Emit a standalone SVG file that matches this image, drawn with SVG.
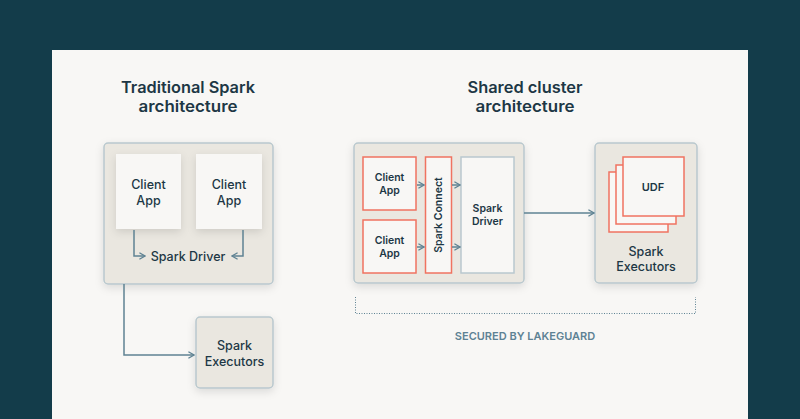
<svg xmlns="http://www.w3.org/2000/svg" width="800" height="419" viewBox="0 0 800 419">
<defs>
<style>
text{font-family:Inter,"Noto Sans","Liberation Sans",sans-serif;fill:#1d3745;text-anchor:middle}
.title{font-size:16px;font-weight:600}
.lbl{font-size:12.5px;font-weight:500}
.sm{font-size:10.5px;font-weight:600}
.outer{fill:#eae7e0;stroke:#b9c8ce;stroke-width:1.5}
.white{fill:#f8f7f5}
.red{fill:#f8f7f5;stroke:#f07360;stroke-width:1.5}
.blue{fill:#f8f7f5;stroke:#b9c8ce;stroke-width:1.5}
.conn{fill:none;stroke:#5f8393;stroke-width:1.5}
</style>
<filter id="sh" x="-20%" y="-20%" width="140%" height="150%">
<feDropShadow dx="0" dy="3" stdDeviation="4" flood-color="#000" flood-opacity="0.12"/>
</filter>
<marker id="ah" viewBox="0 0 10 10" refX="9" refY="5" markerWidth="8" markerHeight="8" markerUnits="userSpaceOnUse" orient="auto">
<path d="M2,1 L9,5 L2,9" fill="none" stroke="#5f8393" stroke-width="1.6"/>
</marker>
</defs>
<rect x="0" y="0" width="800" height="419" fill="#133c4a"/>
<rect x="52" y="50" width="696" height="369" fill="#f8f7f5"/>

<text class="title" x="188" y="92.5" textLength="134" lengthAdjust="spacingAndGlyphs">Traditional Spark</text>
<text class="title" x="188" y="111.5" textLength="99" lengthAdjust="spacingAndGlyphs">architecture</text>
<text class="title" x="525" y="92.5" textLength="115" lengthAdjust="spacingAndGlyphs">Shared cluster</text>
<text class="title" x="525" y="111.5" textLength="99" lengthAdjust="spacingAndGlyphs">architecture</text>

<g id="trad-driver">
<rect class="outer" x="104" y="143" width="169" height="141" rx="4" filter="url(#sh)"/>
<text class="lbl" x="188" y="261">Spark Driver</text>
</g>
<g id="trad-client1">
<rect class="white" x="116" y="154" width="65" height="75" filter="url(#sh)"/>
<text class="lbl" x="148.5" y="189">Client</text>
<text class="lbl" x="148.5" y="205">App</text>
</g>
<g id="trad-client2">
<rect class="white" x="196" y="154" width="66" height="75" filter="url(#sh)"/>
<text class="lbl" x="229" y="189">Client</text>
<text class="lbl" x="229" y="205">App</text>
</g>
<g id="trad-exec">
<rect class="outer" x="196" y="317" width="77" height="71" rx="4" filter="url(#sh)"/>
<text class="lbl" x="234.5" y="350">Spark</text>
<text class="lbl" x="234.5" y="366">Executors</text>
</g>

<g id="shared-box">
<rect class="outer" x="354" y="143" width="170" height="140" rx="4" filter="url(#sh)"/>
</g>
<g id="shared-client1">
<rect class="red" x="363" y="157" width="53" height="53"/>
<text class="sm" x="389.5" y="181">Client</text>
<text class="sm" x="389.5" y="194">App</text>
</g>
<g id="shared-client2">
<rect class="red" x="363" y="220" width="53" height="53"/>
<text class="sm" x="389.5" y="244">Client</text>
<text class="sm" x="389.5" y="257">App</text>
</g>
<g id="spark-connect">
<rect class="red" x="425.5" y="157" width="26" height="116"/>
<text class="sm" transform="translate(442,215) rotate(-90)">Spark Connect</text>
</g>
<g id="shared-driver">
<rect class="blue" x="461" y="157" width="53" height="116"/>
<text class="sm" x="487.5" y="212">Spark</text>
<text class="sm" x="487.5" y="225">Driver</text>
</g>
<g id="shared-exec">
<rect class="outer" x="595" y="143" width="102" height="140" rx="4" filter="url(#sh)"/>
<rect class="red" x="609" y="172" width="59" height="60"/>
<rect class="red" x="616" y="165" width="60" height="59"/>
<rect class="red" x="623" y="157" width="61" height="59"/>
<text class="sm" x="653" y="191" style="font-size:11px">UDF</text>
<text class="lbl" x="646" y="256">Spark</text>
<text class="lbl" x="646" y="271">Executors</text>
</g>

<g id="connectors">
<path class="conn" d="M134,230 V256 H145" marker-end="url(#ah)"/>
<path class="conn" d="M243,230 V256 H232" marker-end="url(#ah)"/>
<path class="conn" d="M124,284 V355 H194" marker-end="url(#ah)"/>
<path class="conn" d="M417,185 H424" marker-end="url(#ah)"/>
<path class="conn" d="M417,247 H424" marker-end="url(#ah)"/>
<path class="conn" d="M452,185 H460" marker-end="url(#ah)"/>
<path class="conn" d="M452,247 H460" marker-end="url(#ah)"/>
<path class="conn" d="M524,213 H594" marker-end="url(#ah)"/>
</g>

<g id="lakeguard">
<path d="M355.5,297 V313.5 H695.5 V297" fill="none" stroke="#5f8393" stroke-width="1" stroke-dasharray="1,1.5"/>
<text x="525" y="340" style="font-size:11px;font-weight:600;fill:#5e8294">SECURED BY LAKEGUARD</text>
</g>
</svg>
